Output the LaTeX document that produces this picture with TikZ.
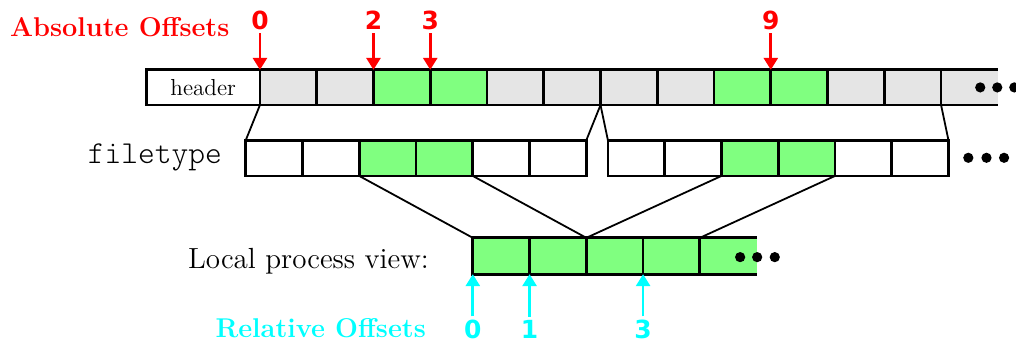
\documentclass[tikz,border=0pt]{standalone}
\usepackage{fontspec}
\usetikzlibrary{arrows.meta}
\newfontfamily\numfont{DejaVu Sans}
\definecolor{cellgreen}{RGB}{128,255,128}
\definecolor{cellgray}{RGB}{229,229,229}
\definecolor{relcyan}{RGB}{0,255,255}
\tikzset{
	cell/.style={line width=1.4pt},
	link/.style={line width=0.9pt},
	offarrow/.style={line width=1.4pt, -{Triangle[width=7pt,length=6pt]}},
	offnum/.style={font=\numfont\bfseries\fontsize{12.5}{14}\selectfont, inner sep=1.5pt},
	offlabel/.style={font=\bfseries\fontsize{13.6}{16}\selectfont}
}
\begin{document}
\begin{tikzpicture}
				\useasboundingbox (-4.58,-4.23) rectangle (13.32,1.85);
				% file with header
				\fill[cellgray] (0,0) rectangle (13,0.62);
				\fill[cellgreen] (2,0) rectangle (4,0.62);
				\fill[cellgreen] (8,0) rectangle (10,0.62);
				\draw[cell] (13,0.62) -- (-2,0.62) -- (-2,0) -- (13,0);
				\foreach \i in {0,...,12} \draw[cell] (\i,0) -- (\i,0.62);
				\node[font=\fontsize{11.6}{14}\selectfont] (hdr) at (-1,0.31) {header};
				\foreach \x in {12.69,12.99,13.29} \fill (\x,0.31) circle (0.09);
				% absolute offsets
				\node[offlabel, red] (abs) at (-2.47,1.37) {Absolute Offsets};
				\coordinate (t0) at (0,0.62);
				\coordinate (t2) at (2,0.62);
				\coordinate (t3) at (3,0.62);
				\coordinate (t9) at (9,0.62);
				\node[offnum, red] (n0) at (0,1.49) {0};
				\node[offnum, red] (n2) at (2,1.49) {2};
				\node[offnum, red] (n3) at (3,1.49) {3};
				\node[offnum, red] (n9) at (9,1.49) {9};
				\draw[offarrow, red] (n0) to (t0);
				\draw[offarrow, red] (n2) to (t2);
				\draw[offarrow, red] (n3) to (t3);
				\draw[offarrow, red] (n9) to (t9);
				% filetype
				\node[font=\ttfamily\fontseries{l}\fontsize{16}{18}\selectfont] (ft) at (-1.85,-0.93) {filetype};
				\fill[cellgreen] (1.75,-1.25) rectangle (3.75,-0.62);
				\fill[cellgreen] (8.13,-1.25) rectangle (10.13,-0.62);
				\draw[cell] (-0.25,-1.25) rectangle (5.75,-0.62);
				\draw[cell] (6.13,-1.25) rectangle (12.13,-0.62);
				\foreach \x in {0.75,1.75,2.75,3.75,4.75} \draw[cell] (\x,-1.25) -- (\x,-0.62);
				\foreach \x in {7.13,8.13,9.13,10.13,11.13} \draw[cell] (\x,-1.25) -- (\x,-0.62);
				\foreach \x in {12.48,12.80,13.11} \fill (\x,-0.93) circle (0.09);
				\coordinate (b0) at (0,0);
				\coordinate (b6) at (6,0);
				\coordinate (b12) at (12,0);
				\coordinate (fa) at (-0.25,-0.62);
				\coordinate (fb) at (5.75,-0.62);
				\coordinate (fc) at (6.13,-0.62);
				\coordinate (fd) at (12.13,-0.62);
				\draw[link] (b0) to (fa);
				\draw[link] (b6) to (fb);
				\draw[link] (b6) to (fc);
				\draw[link] (b12) to (fd);
				% local process view
				\node[font=\fontsize{14.6}{17}\selectfont, anchor=east] (lpv) at (3.1,-2.75) {Local process view:};
				\fill[cellgreen] (3.75,-2.98) rectangle (8.75,-2.34);
				\draw[cell] (8.75,-2.34) -- (3.75,-2.34) -- (3.75,-2.98) -- (8.75,-2.98);
				\foreach \x in {4.75,5.75,6.75,7.75} \draw[cell] (\x,-2.98) -- (\x,-2.34);
				\foreach \x in {8.46,8.76,9.07} \fill (\x,-2.68) circle (0.09);
				\coordinate (g1) at (1.75,-1.25);
				\coordinate (g2) at (3.75,-1.25);
				\coordinate (g3) at (8.13,-1.25);
				\coordinate (g4) at (10.13,-1.25);
				\coordinate (l0) at (3.75,-2.34);
				\coordinate (l2) at (5.75,-2.34);
				\coordinate (l4) at (7.75,-2.34);
				\draw[link] (g1) to (l0);
				\draw[link] (g2) to (l2);
				\draw[link] (g3) to (l2);
				\draw[link] (g4) to (l4);
				% relative offsets
				\node[offlabel, relcyan] (rel) at (1.07,-3.93) {Relative Offsets};
				\coordinate (r0) at (3.75,-2.98);
				\coordinate (r1) at (4.75,-2.98);
				\coordinate (r3) at (6.75,-2.98);
				\node[offnum, relcyan] (m0) at (3.75,-3.95) {0};
				\node[offnum, relcyan] (m1) at (4.75,-3.95) {1};
				\node[offnum, relcyan] (m3) at (6.75,-3.95) {3};
				\draw[offarrow, relcyan] (m0) to (r0);
				\draw[offarrow, relcyan] (m1) to (r1);
				\draw[offarrow, relcyan] (m3) to (r3);
			\end{tikzpicture}
\end{document}
